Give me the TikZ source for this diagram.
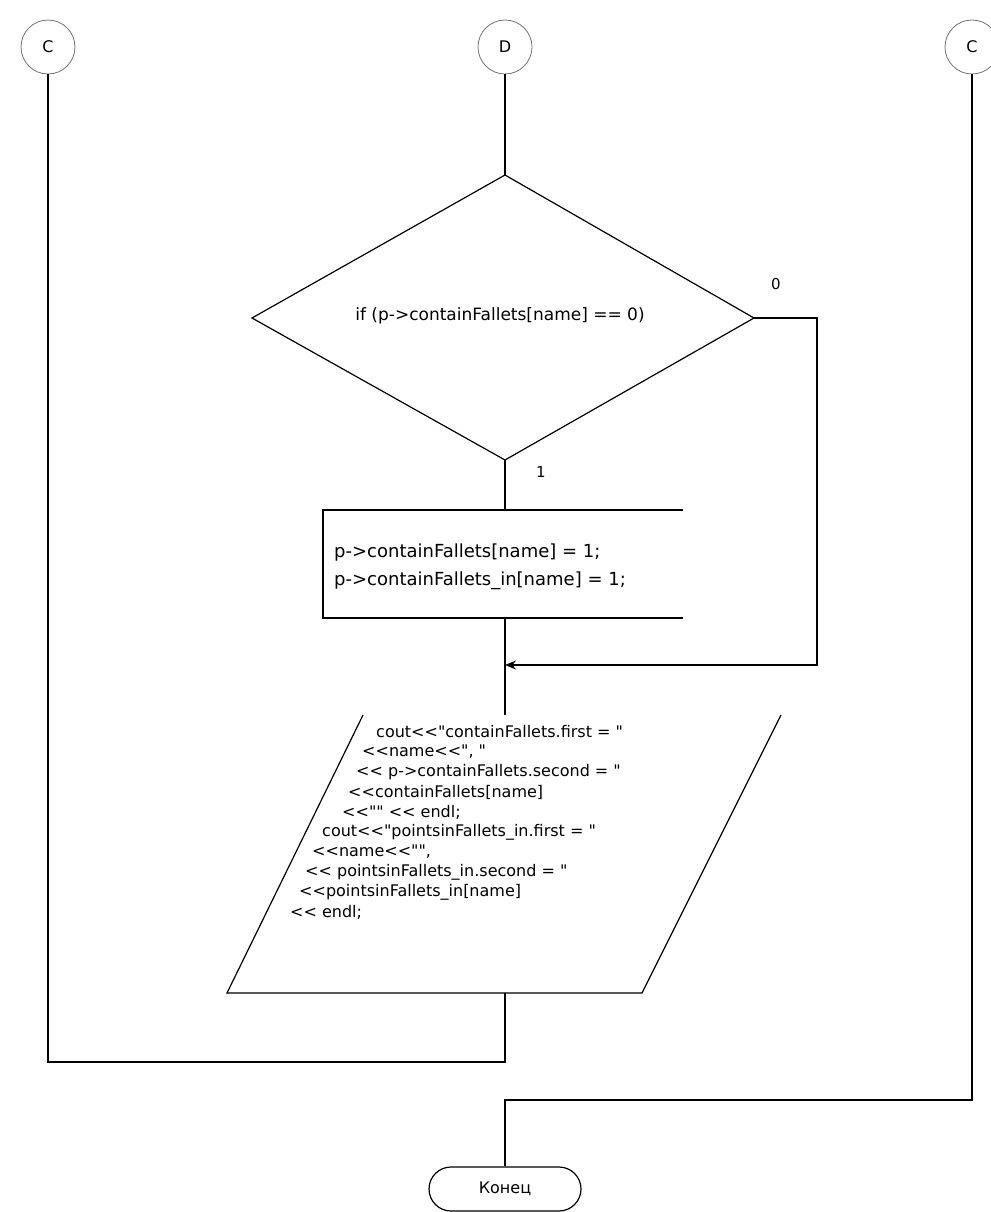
\documentclass[tikz,border=0pt]{standalone}
\usepackage{fontspec}
\setmainfont{DejaVu Sans}
% plain family without TeX ligatures, so << and " stay as typed
\newfontfamily\cf{DejaVu Sans}
\usetikzlibrary{arrows.meta}
\begin{document}
\begin{tikzpicture}[x=1pt,y=-1pt,
  flow/.style={line width=1.6pt},
  outline/.style={line width=1.2pt},
  conn/.style={circle, draw=black!55, line width=0.8pt, minimum size=54pt, inner sep=0pt, font=\cf\fontsize{16}{18}\selectfont},
  lbl/.style={font=\cf\fontsize{15}{17}\selectfont, inner sep=0pt},
  cond/.style={font=\cf\fontsize{17}{19}\selectfont, inner sep=0pt},
  proc/.style={font=\cf\fontsize{18}{20}\selectfont, inner sep=0pt, anchor=west},
  code/.style={font=\cf\fontsize{16}{18}\selectfont, inner sep=0pt, anchor=west},
  term/.style={draw, line width=1.2pt, rounded corners=22pt, minimum width=152pt, minimum height=44pt, inner sep=0pt, font=\cf\fontsize{16}{18}\selectfont},
]
\useasboundingbox (0,0) rectangle (990,1212);

% off-page connectors
\node[conn] (cL) at (48,47) {C};
\node[conn] (cM) at (505,47) {D};
\node[conn] (cR) at (972,47) {C};

% decision
\coordinate (dT) at (505,175);
\coordinate (dR) at (754,318);
\coordinate (dB) at (505,460);
\coordinate (dL) at (252,318);
\draw[outline] (dT) -- (dR) -- (dB) -- (dL) -- cycle;
\node[cond] (dtext) at (500,316) {if (p->containFallets[name] == 0)};
\node[lbl] (lbl0) at (776,284) {0};
\node[lbl] (lbl1) at (541,472) {1};

% process block
\coordinate (rTL) at (323,510);
\coordinate (rTR) at (683,510);
\coordinate (rBL) at (323,618);
\coordinate (rBR) at (683,618);
\coordinate (rT) at (505,510);
\coordinate (rB) at (505,618);
\draw[outline] (rTR) -- (rTL) -- (rBL) -- (rBR);
\node[proc] (p1) at (334,553) {p->containFallets[name] = 1;};
\node[proc] (p2) at (334,581) {p->containFallets\_in[name] = 1;};

% output block
\coordinate (oTL) at (363,715);
\coordinate (oTR) at (781,715);
\coordinate (oBR) at (642,993);
\coordinate (oBL) at (227,993);
\coordinate (oT) at (505,715);
\coordinate (oB) at (505,993);
\draw[outline] (oTL) -- (oBL) -- (oBR) -- (oTR);
\node[code] (o1) at (376,732) {cout<<"containFallets.first = "};
\node[code] (o2) at (362,752) {<<name<<", "};
\node[code] (o3) at (356,772) {<< p->containFallets.second = "};
\node[code] (o4) at (348,792) {<<containFallets[name]};
\node[code] (o5) at (342,812) {<<"" << endl;};
\node[code] (o6) at (322,832) {cout<<"pointsinFallets\_in.first = "};
\node[code] (o7) at (312,852) {<<name<<"",};
\node[code] (o8) at (305,872) {<< pointsinFallets\_in.second = "};
\node[code] (o9) at (299,892) {<<pointsinFallets\_in[name]};
\node[code] (o10) at (290,912) {<< endl;};

% terminator
\node[term] (end) at (505,1189) {Конец};

% connectors
\coordinate (m) at (505,665);
\coordinate (rr1) at (817,318);
\coordinate (rr2) at (817,665);
\coordinate (lb1) at (505,1062);
\coordinate (lb2) at (48,1062);
\coordinate (rb1) at (972,1100);
\coordinate (rb2) at (505,1100);

\draw[flow] (cM.south) -- (dT);
\draw[flow] (dB) -- (rT);
\draw[flow] (rB) -- (oT);
\draw[flow, -{Stealth[length=11pt,width=9pt]}] (dR) -- (rr1) -- (rr2) -- (m);
\draw[flow] (oB) -- (lb1) -- (lb2) -- (cL.south);
\draw[flow] (cR.south) -- (rb1) -- (rb2) -- (end.north);
\end{tikzpicture}
\end{document}
